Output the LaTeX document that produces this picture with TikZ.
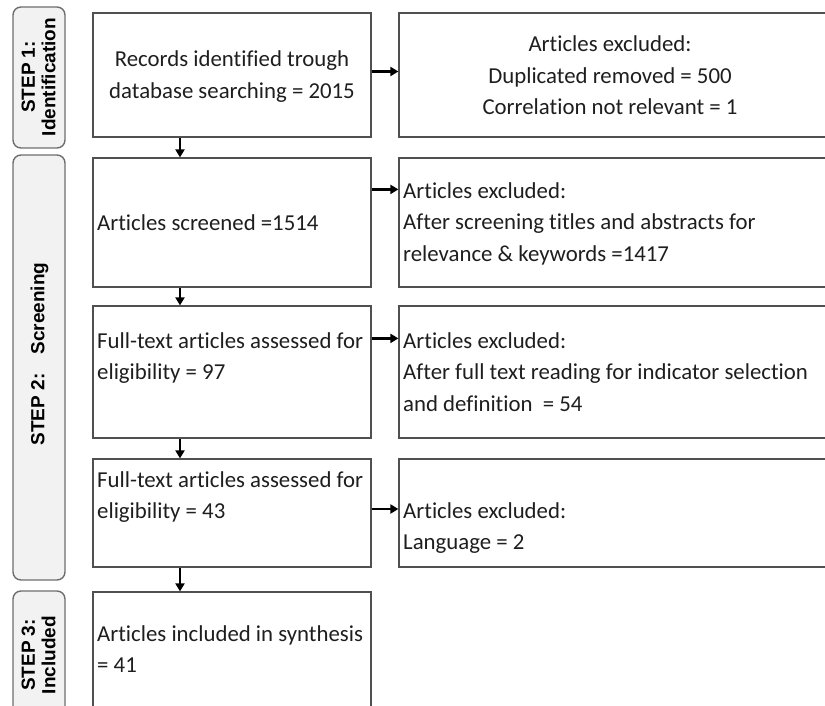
\documentclass[tikz,border=0pt]{standalone}
\usepackage{fontspec}
\setmainfont{Carlito}[Ligatures=NoCommon]
\newfontfamily\stepfont{Liberation Sans}
\usetikzlibrary{arrows.meta}
\definecolor{boxline}{HTML}{505050}
\definecolor{stepline}{HTML}{6E6E6E}
\definecolor{stepfill}{HTML}{F2F2F2}
\definecolor{txt}{HTML}{1E1E1E}
\tikzset{
  mainbox/.style={draw=boxline, line width=1.2pt, rectangle, inner sep=0pt},
  stepbox/.style={draw=stepline, fill=stepfill, line width=1.4pt, rounded corners=8pt, inner sep=0pt, minimum width=52pt},
  steplabel/.style={rotate=90, align=center, inner sep=0pt, text=black, font=\stepfont\bfseries\fontsize{19}{20.5}\selectfont},
  bodytext/.style={inner sep=0pt, text=txt, font=\fontsize{22.8}{31.5}\selectfont},
  arr/.style={line width=2.7pt, -{Triangle[length=8pt,width=9pt]}}
}
\begin{document}
\begin{tikzpicture}[x=1pt,y=-1pt]
\useasboundingbox (0,0) rectangle (825,706);
\clip (0,0) rectangle (825,706);
% step boxes
\node[stepbox, minimum height=141pt] (s1) at (39,77.5) {};
\node[stepbox, minimum height=425pt] (s2) at (39,367.5) {};
\node[stepbox, minimum height=130pt] (s3) at (39,656) {};
\node[steplabel] (l1) at (38.5,77) {STEP 1:\\Identification};
\node[steplabel] (l2) at (39.5,354) {STEP 2:\hspace{1.0em}Screening};
\node[steplabel] (l3) at (38.5,655) {STEP 3:\\Included};
% left column
\node[mainbox, minimum width=278pt, minimum height=124pt] (b1) at (232,75) {};
\node[mainbox, minimum width=278pt, minimum height=129pt] (b2) at (232,222.5) {};
\node[mainbox, minimum width=278pt, minimum height=132pt] (b3) at (232,372) {};
\node[mainbox, minimum width=278pt, minimum height=108pt] (b4) at (232,513) {};
\node[mainbox, minimum width=278pt, minimum height=130pt] (b5) at (232,657) {};
% right column
\node[mainbox, minimum width=446pt, minimum height=124pt] (r1) at (622,75) {};
\node[mainbox, minimum width=446pt, minimum height=129pt] (r2) at (622,222.5) {};
\node[mainbox, minimum width=446pt, minimum height=132pt] (r3) at (622,372) {};
\node[mainbox, minimum width=446pt, minimum height=108pt] (r4) at (622,513) {};
% texts
\node[bodytext, anchor=base] (t1) at (232,67) {\begin{tabular}[t]{@{}c@{}}Records identified trough\\database searching = 2015\end{tabular}};
\node[bodytext, anchor=base] (u1) at (610,52) {\begin{tabular}[t]{@{}c@{}}Articles excluded:\\Duplicated removed = 500\\Correlation not relevant = 1\end{tabular}};
\node[bodytext, anchor=base west] (t2) at (97,230) {Articles screened =1514};
\node[bodytext, anchor=base west] (u2) at (403,198) {\begin{tabular}[t]{@{}l@{}}Articles excluded:\\After screening titles and abstracts for\\relevance \& keywords =1417\end{tabular}};
\node[bodytext, anchor=base west] (t3) at (97,348) {\begin{tabular}[t]{@{}l@{}}Full-text articles assessed for\\eligibility = 97\end{tabular}};
\node[bodytext, anchor=base west] (u3) at (403,348) {\begin{tabular}[t]{@{}l@{}}Articles excluded:\\After full text reading for indicator selection\\and definition~ = 54\end{tabular}};
\node[bodytext, anchor=base west] (t4) at (97,487) {\begin{tabular}[t]{@{}l@{}}Full-text articles assessed for\\eligibility = 43\end{tabular}};
\node[bodytext, anchor=base west] (u4) at (403,518) {\begin{tabular}[t]{@{}l@{}}Articles excluded:\\Language = 2\end{tabular}};
\node[bodytext, anchor=base west] (t5) at (97,641) {\begin{tabular}[t]{@{}l@{}}Articles included in synthesis\\= 41\end{tabular}};
% horizontal arrows
\draw[arr] ([yshift=3.5pt]b1.east) -- ([yshift=3.5pt]b1.east -| r1.west);
\draw[arr] ([yshift=-32pt]b2.north east) -- ([yshift=-32pt]b2.north east -| r2.west);
\draw[arr] ([yshift=-33pt]b3.north east) -- ([yshift=-33pt]b3.north east -| r3.west);
\draw[arr] ([yshift=4pt]b4.east) -- ([yshift=4pt]b4.east -| r4.west);
% vertical arrows
\draw[arr] ([xshift=-52pt]b1.south) -- ([xshift=-52pt]b1.south |- b2.north);
\draw[arr] ([xshift=-52pt]b2.south) -- ([xshift=-52pt]b2.south |- b3.north);
\draw[arr] ([xshift=-52pt]b3.south) -- ([xshift=-52pt]b3.south |- b4.north);
\draw[arr] ([xshift=-52pt]b4.south) -- ([xshift=-52pt]b4.south |- b5.north);
\end{tikzpicture}
\end{document}
